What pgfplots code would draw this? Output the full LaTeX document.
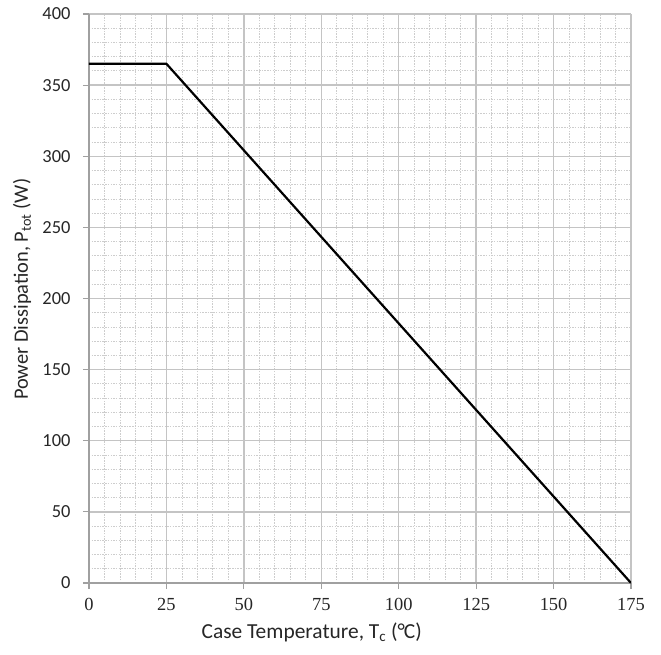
\documentclass[border=0pt]{standalone}
\usepackage{fontspec}
\setmainfont{Carlito}
\newfontfamily\serifticks{Liberation Serif}
\usepackage{pgfplots}
\pgfplotsset{compat=1.18}
\definecolor{majgrid}{HTML}{C4C4C4}
\definecolor{mingrid}{HTML}{CDCDCD}
\definecolor{axgray}{HTML}{A0A0A0}
\begin{document}
\begin{tikzpicture}
\begin{axis}[
    scale only axis,
    width=542bp, height=569bp,
    xmin=0, xmax=175, ymin=0, ymax=400,
    xtick={0,25,...,175}, ytick={0,50,...,400},
    minor x tick num=4, minor y tick num=4,
    grid=both,
    major grid style={majgrid, line width=1.3bp},
    minor grid style={mingrid, dash pattern=on 1.5bp off 1.2bp, line width=0.8bp},
    axis lines*=left,
    axis line style={axgray, line width=1.2bp},
    tick style={axgray, line width=1.2bp},
    major tick length=6bp,
    minor tick length=0pt,
    tick pos=left,
    tick align=outside,
    /pgf/number format/assume math mode=true,
    xticklabel style={font=\serifticks\fontsize{18.5}{20}\selectfont, text=black!85, yshift=-6bp},
    yticklabel style={font=\fontsize{18.5}{20}\selectfont, text=black!85, xshift=-9bp},
    xlabel={Case Temperature, T\textsubscript{c} (°\kern-0.04em C)},
    ylabel={Power Dissipation, P\textsubscript{tot} (W)},
    xlabel style={font=\fontsize{21.5}{23}\selectfont, text=black!85,
        at={(axis description cs:0.411,-0.086)}, anchor=center},
    ylabel style={font=\fontsize{20.5}{23}\selectfont, text=black!85,
        at={(axis description cs:-0.1236,0.516)}, anchor=center},
]
\addplot[black, line width=2.2bp] coordinates {(0,365) (25,365) (175,0)};
\path (rel axis cs:0,0) ++(-89bp,-72bp) coordinate (bl);
\path (rel axis cs:1,1) ++(30bp,14bp) coordinate (tr);
\end{axis}
\useasboundingbox (bl) rectangle (tr);
\end{tikzpicture}
\end{document}
